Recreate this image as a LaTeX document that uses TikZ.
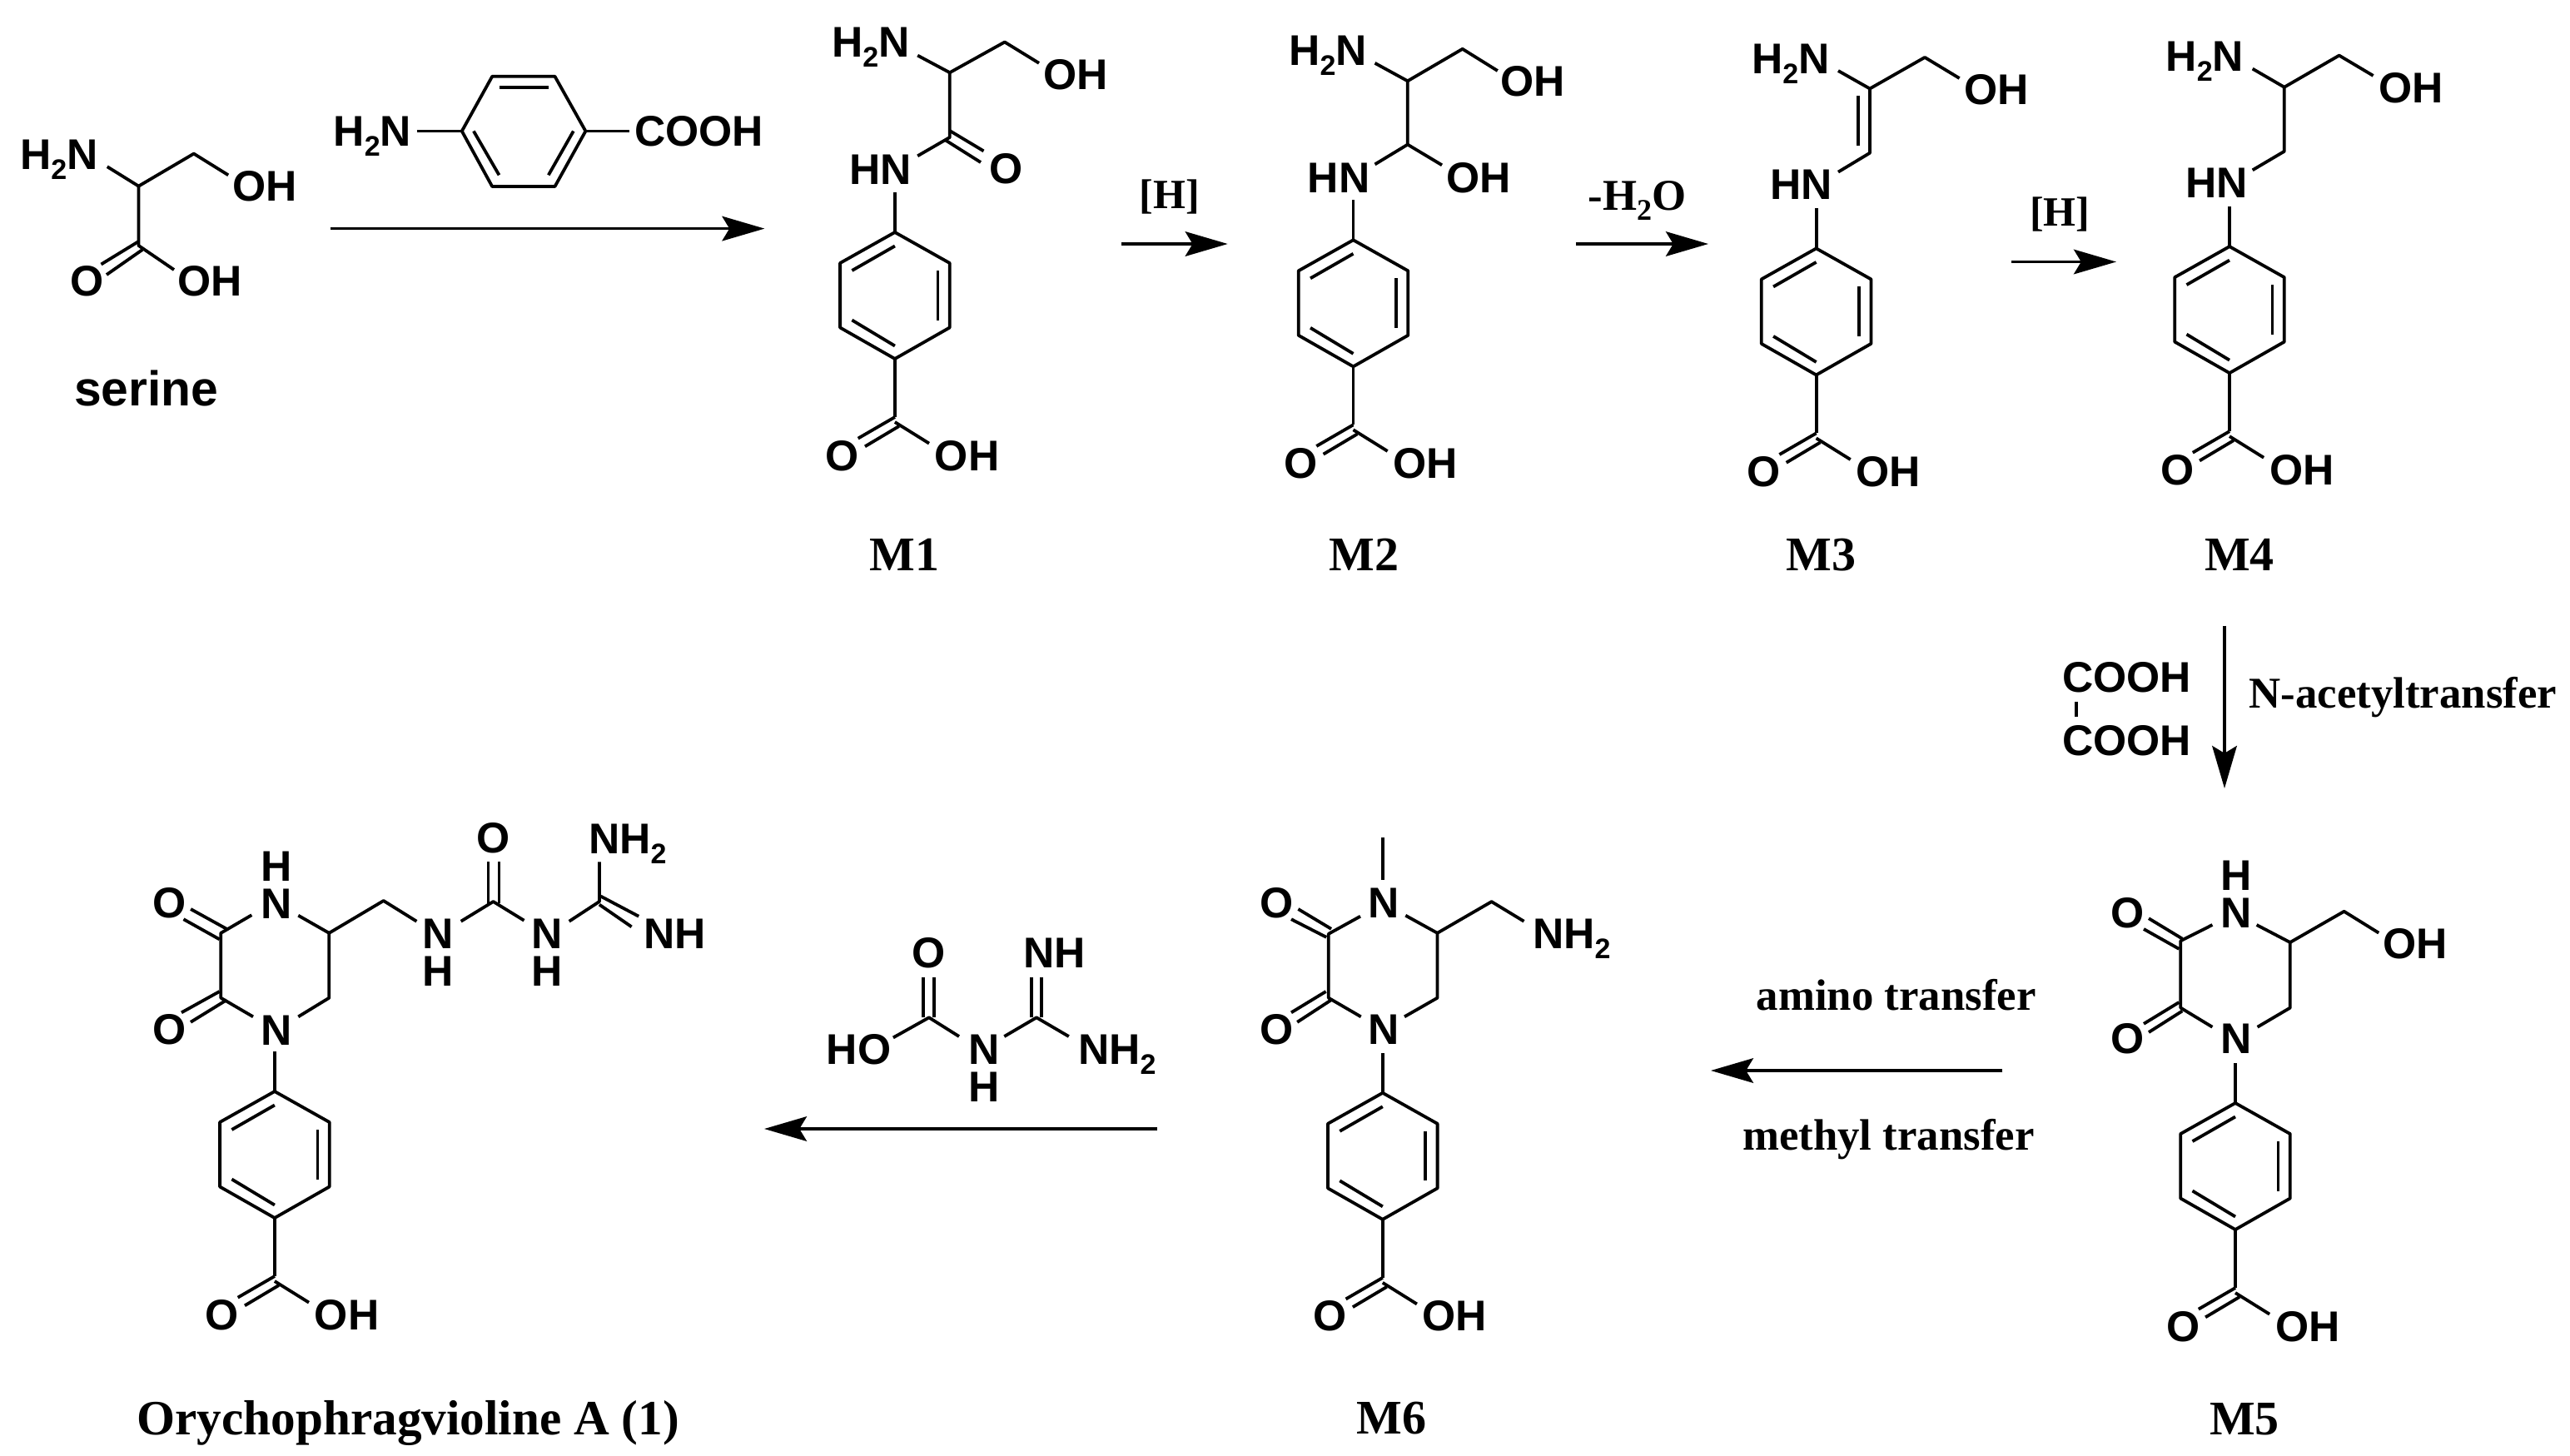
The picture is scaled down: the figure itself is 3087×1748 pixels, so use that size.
\documentclass[tikz,border=0pt]{standalone}
\usepackage{fontspec}
\setmainfont{Liberation Serif}
\newfontfamily\chemfont{Liberation Sans}
\usetikzlibrary{arrows.meta}
\newcommand{\sbs}[1]{\raisebox{-3pt}{\fontsize{8.5}{8.5}\selectfont #1}}
\newcommand{\tbs}[1]{\raisebox{-3pt}{\fontsize{9}{9}\selectfont #1}}
\newcommand{\atm}[4]{\node[atomlabel] (#1) at (#2,#3) {#4};}
\newcommand{\stk}[5]{\node[atomstack] (#1) at (#2,#3) {#4\\#5};}
\newcommand{\ttl}[4]{\node[titlelabel] (#1) at (#2,#3) {#4};}
% benzoic acid fragment, hung from the ring's top vertex
\newcommand{\benz}[3]{%
\begin{scope}[shift={(#2,#3)}]
 \draw[bond] (0,0) -- (65.8,37) -- (65.8,114.5) -- (0,152) -- (-65.8,114.5) -- (-65.8,37) -- cycle;
 \draw[bond] (-51.5,46) -- (0,16.5);
 \draw[bond] (51.5,46) -- (51.5,105.5);
 \draw[bond] (-51.5,105.5) -- (0,136.5);
 \draw[bond] (0,0) -- (0,-48);
 \draw[bond] (0,152) -- (0,222);
 \draw[bond] (0,222) -- (-44.2,247.6);
 \draw[bond] (4.9,233) -- (-35.9,257.3);
 \draw[bond] (0,228) -- (41.1,253.6);
 \atm{#1O}{-83}{286}{O}
 \atm{#1OH}{48}{286}{OH}
\end{scope}}
\tikzset{
 x=0.25pt,y=-0.25pt,
 bond/.style={draw=black,line width=0.95pt,line join=round},
 atomlabel/.style={anchor=base west,inner sep=0pt,outer sep=0pt,font=\chemfont\bfseries\fontsize{12.9}{13}\selectfont},
 atomstack/.style={anchor=base west,inner sep=0pt,outer sep=0pt,align=center,font=\chemfont\bfseries\fontsize{12.9}{11.2}\selectfont},
 titlelabel/.style={anchor=base west,inner sep=0pt,outer sep=0pt,font=\bfseries\fontsize{13.2}{14}\selectfont},
 bracketlabel/.style={anchor=base west,inner sep=0pt,outer sep=0pt,font=\bfseries\fontsize{12.5}{14}\selectfont},
 bigtitle/.style={anchor=base west,inner sep=0pt,outer sep=0pt,font=\bfseries\fontsize{14.8}{15}\selectfont},
 rxn/.style={draw=black,line width=0.9pt,-{Stealth[length=12.75pt,width=7.4pt,inset=2.2pt]}},
}
\begin{document}
\begin{tikzpicture}
\useasboundingbox (0,0) rectangle (3087,1748);
% --- serine
\draw[bond] (128.8,200.2) -- (166.5,223.6) -- (232.8,184.6) -- (274.2,210.3);
\draw[bond] (166.5,223.6) -- (166.5,295) -- (209,324);
\draw[bond] (166.5,290) -- (121.5,317.5);
\draw[bond] (171,300) -- (128,330);
\atm{serNH}{24}{203.4}{H\sbs{2}N}
\atm{serOHa}{279}{241}{OH}
\atm{serO}{84}{355.8}{O}
\atm{serOHb}{213.6}{355.8}{OH}
\node[atomlabel,font=\chemfont\bfseries\fontsize{14.7}{15}\selectfont] (serine) at (89,487.6) {serine};
% --- 4-aminobenzoic acid
\draw[bond] (554.8,157.5) -- (591.2,91.8) -- (666.5,91.8) -- (703.4,157.5) -- (666.5,224) -- (591.2,224) -- cycle;
\draw[bond] (599.5,104.7) -- (658.8,104.7);
\draw[bond] (568.9,157.5) -- (599.5,210.3);
\draw[bond] (688.8,157.5) -- (658.8,210.3);
\draw[bond] (500.6,157.5) -- (554.8,157.5);
\draw[bond] (703.4,157.5) -- (755.7,157.5);
\atm{pabaN}{400.5}{175.9}{H\sbs{2}N}
\atm{pabaC}{762}{175.9}{COOH}
% --- M1
\benz{mA}{1074.9}{279}
\draw[bond] (1102.2,66.6) -- (1140.8,87.2) -- (1206.8,50.5) -- (1248,75.8);
\draw[bond] (1140.8,87.2) -- (1140.8,165) -- (1102.2,187.3);
\draw[bond] (1140.8,157) -- (1181.5,181.4);
\draw[bond] (1135.9,168.5) -- (1178,195);
\atm{mAn}{999}{68.9}{H\sbs{2}N}
\atm{mAoh}{1253}{107}{OH}
\atm{mAo}{1188.5}{220.4}{O}
\atm{mAhn}{1020}{221.8}{HN}
\ttl{Mone}{1044.7}{685}{\fontsize{14.5}{15}\selectfont M1}
% --- M2
\benz{mB}{1625.5}{288.3}
\draw[bond] (1651.5,75.8) -- (1690.8,97.3) -- (1756.7,58.8) -- (1798.8,85);
\draw[bond] (1690.8,97.3) -- (1690.8,173.6) -- (1651.5,197.4);
\draw[bond] (1690.8,173.6) -- (1732,198.3);
\atm{mBn}{1548.4}{78}{H\sbs{2}N}
\atm{mBoh}{1802}{115.7}{OH}
\atm{mBohb}{1737}{231}{OH}
\atm{mBhn}{1570.8}{231}{HN}
\ttl{Mtwo}{1596.8}{685}{\fontsize{14.5}{15}\selectfont M2}
% --- M3
\benz{mC}{2181.6}{298.4}
\draw[bond] (2208,85) -- (2246,106.5) -- (2312,68.9) -- (2353.6,94);
\draw[bond] (2246,106.5) -- (2246,183.7) -- (2208,206.6);
\draw[bond] (2232.2,114.8) -- (2232.2,175.4);
\atm{mCn}{2104}{88}{H\sbs{2}N}
\atm{mCoh}{2359}{125}{OH}
\atm{mChn}{2126}{239.7}{HN}
\ttl{Mthree}{2145.6}{685}{\fontsize{14.5}{15}\selectfont M3}
% --- M4
\benz{mD}{2678}{296.1}
\draw[bond] (2705.7,82.6) -- (2743.8,104.7) -- (2809.7,66.6) -- (2850.6,90.9);
\draw[bond] (2743.8,104.7) -- (2743.8,181.8) -- (2705.7,204.3);
\atm{mDn}{2601.7}{85.4}{H\sbs{2}N}
\atm{mDoh}{2857.5}{123}{OH}
\atm{mDhn}{2625}{237.8}{HN}
\ttl{Mfour}{2648}{685}{\fontsize{14.5}{15}\selectfont M4}
% --- M5
\benz{mE}{2685}{1325}
\draw[bond] (2657.4,1111) -- (2619.3,1130.2) -- (2619.3,1210.6) -- (2657.4,1233.7);
\draw[bond] (2710.6,1111) -- (2750.8,1132) -- (2750.8,1210.6) -- (2711.6,1233.7);
\draw[bond] (2621.3,1127.6) -- (2581,1103.2);
\draw[bond] (2617.3,1139.8) -- (2575,1116);
\draw[bond] (2617.3,1204) -- (2575,1229.8);
\draw[bond] (2621.3,1214.4) -- (2581,1240);
\draw[bond] (2750.8,1132) -- (2815.6,1094.8) -- (2857.2,1120.6);
\stk{mEna}{2667}{1114}{H}{N}
\atm{mEoa}{2535}{1114}{O}
\atm{mEob}{2535}{1265.8}{O}
\atm{mEnb}{2667}{1265.8}{N}
\atm{mEoh}{2862}{1151.4}{OH}
\ttl{Mfive}{2654}{1723.5}{\fontsize{14.5}{15}\selectfont M5}
% --- M6
\benz{mF}{1660.8}{1312.8}
\draw[bond] (1660.8,1006.2) -- (1660.8,1056.5);
\draw[bond] (1634,1100.7) -- (1595.8,1121.8) -- (1595.8,1198.7) -- (1634.7,1221.3);
\draw[bond] (1688.3,1099.7) -- (1726.5,1120.8) -- (1726.5,1198.7) -- (1687,1221.3);
\draw[bond] (1593.2,1125.8) -- (1551,1104.2);
\draw[bond] (1599,1115.8) -- (1559.4,1092);
\draw[bond] (1592.6,1191) -- (1551,1216.3);
\draw[bond] (1599,1201.2) -- (1558.2,1227.8);
\draw[bond] (1726.5,1120.8) -- (1791.6,1083.1) -- (1830.5,1106.7);
\atm{mFna}{1643}{1102.2}{N}
\atm{mFoa}{1513}{1102}{O}
\atm{mFob}{1513}{1254}{O}
\atm{mFnb}{1643}{1254}{N}
\atm{mFnh}{1841}{1139.9}{NH\sbs{2}}
\ttl{Msix}{1629.6}{1722.8}{\fontsize{14.5}{15}\selectfont M6}
% --- Orychophragvioline A
\benz{mG}{329.9}{1311}
\draw[bond] (302.3,1099.2) -- (265.3,1120.8) -- (265.3,1198.7) -- (304,1221.3);
\draw[bond] (358.3,1099.7) -- (395.3,1120.8) -- (395.3,1198.7) -- (358.3,1221.3);
\draw[bond] (263.6,1128.3) -- (220.5,1104.2);
\draw[bond] (272.2,1115.8) -- (229.1,1092);
\draw[bond] (263.6,1191) -- (218,1216.3);
\draw[bond] (272.2,1201.2) -- (229,1227.8);
\draw[bond] (395.3,1120.8) -- (460.7,1082) -- (500.4,1106.7);
\draw[bond] (553.7,1106.7) -- (592.5,1083) -- (629.5,1105.7);
\draw[bond] (586.4,1084.6) -- (586.4,1035.4);
\draw[bond] (599.4,1084.6) -- (599.4,1035.4);
\draw[bond] (683.7,1106.7) -- (719.9,1083) -- (719.9,1035.4);
\draw[bond] (721.6,1076.6) -- (767.2,1100.7);
\draw[bond] (719.9,1086.6) -- (758.6,1113.3);
\stk{mGna}{313}{1103.2}{H}{N}
\atm{mGnb}{313}{1255}{N}
\atm{mGoa}{183.5}{1102}{O}
\atm{mGob}{183.5}{1254}{O}
\stk{mGnc}{507}{1184.6}{N}{H}
\atm{mGo}{572.5}{1024.3}{O}
\stk{mGnd}{638}{1184.6}{N}{H}
\atm{mGnh}{773.3}{1139.9}{NH}
\atm{mGnht}{707}{1025.3}{NH\sbs{2}}
\node[bigtitle] (Mfinal) at (164.6,1723.8) {Orychophragvioline A (1)};
% --- guanidine reagent
\draw[bond] (1072.9,1246.4) -- (1115.9,1222.3) -- (1152,1245);
\draw[bond] (1109,1222.3) -- (1109,1173.6);
\draw[bond] (1122,1222.3) -- (1122,1173.6);
\draw[bond] (1206.3,1245) -- (1245,1222.3) -- (1283.8,1245);
\draw[bond] (1239,1222.3) -- (1239,1173.6);
\draw[bond] (1251,1222.3) -- (1251,1173.6);
\atm{gHO}{992.8}{1278}{HO}
\atm{gO}{1095}{1162.5}{O}
\stk{gN}{1163}{1323.3}{N}{H}
\atm{gNH}{1229.6}{1162.5}{NH}
\atm{gNHb}{1295}{1278}{NH\sbs{2}}
% --- oxalic acid
\draw[bond] (2494.3,842.9) -- (2494.3,860.9);
\atm{oxA}{2477}{831.3}{COOH}
\atm{oxB}{2477}{907}{COOH}
% --- arrow labels
\node[bracketlabel] (hA) at (1368.8,250) {[H]};
\ttl{wat}{1907.5}{252.5}{-H\tbs{2}O}
\node[bracketlabel] (hB) at (2438,271.8) {[H]};
\ttl{acet}{2701.6}{850.6}{N-acetyltransfer}
\ttl{amino}{2109.8}{1213.8}{amino transfer}
\ttl{methyl}{2093.2}{1381}{methyl transfer}
% --- arrows
\coordinate (aAs) at (396.7,274.6); \coordinate (aAe) at (918.4,274.6);
\coordinate (aBs) at (1347,293);    \coordinate (aBe) at (1474.7,293);
\coordinate (aCs) at (1892.8,293);  \coordinate (aCe) at (2052,293);
\coordinate (aDs) at (2416,314.5);  \coordinate (aDe) at (2542,314.5);
\coordinate (aEs) at (2672,751.6);  \coordinate (aEe) at (2672,947);
\coordinate (aFs) at (2405.4,1286); \coordinate (aFe) at (2055,1286);
\coordinate (aGs) at (1389.7,1356); \coordinate (aGe) at (918,1356);
\draw[rxn] (aAs) -- (aAe);
\draw[rxn] (aBs) -- (aBe);
\draw[rxn] (aCs) -- (aCe);
\draw[rxn] (aDs) -- (aDe);
\draw[rxn] (aEs) -- (aEe);
\draw[rxn] (aFs) -- (aFe);
\draw[rxn] (aGs) -- (aGe);
\end{tikzpicture}
\end{document}
